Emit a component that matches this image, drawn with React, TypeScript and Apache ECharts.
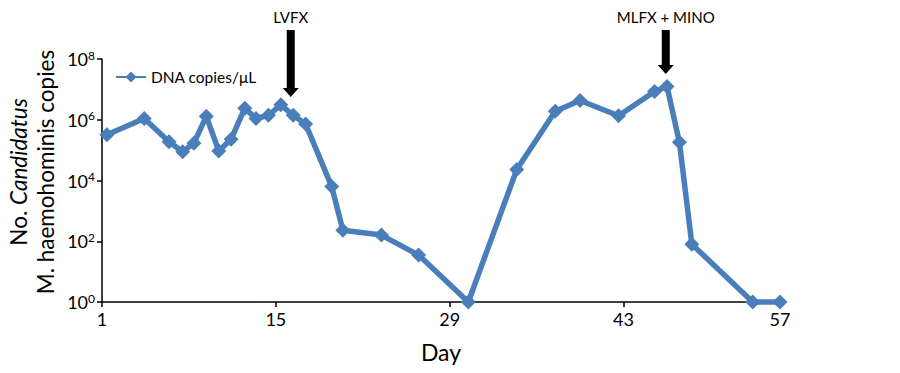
import React, { useEffect, useRef } from "react";
import * as echarts from "echarts";

const days = [1.4, 4.4, 6.4, 7.5, 8.4, 9.4, 10.4, 11.4, 12.5, 13.4, 14.4, 15.4, 16.4, 17.4, 19.5, 20.4, 23.5, 26.5, 30.5, 34.4, 37.5, 39.5, 42.6, 45.5, 46.5, 47.5, 48.5, 53.4, 55.6];
const copies = [3.2e5, 1.1e6, 1.9e5, 8.9e4, 1.7e5, 1.3e6, 9.4e4, 2.3e5, 2.4e6, 1.1e6, 1.4e6, 3.1e6, 1.4e6, 7.2e5, 6.3e3, 230, 160, 35, 1, 2.3e4, 1.9e6, 4.3e6, 1.35e6, 8.5e6, 1.25e7, 1.8e5, 80, 1, 1];
const xTickValues = [1, 15, 29, 43];
const xEndValue = 55.6;
const xEndLabel = "57";
const seriesName = "DNA copies/μL";
const treatments = [
  { label: "LVFX", day: 16.2, tipY: 97 },
  { label: "MLFX + MINO", day: 46.4, tipY: 74 },
];

const FONT = "Lato, 'Open Sans', sans-serif";
const BLUE = "#4A7EBB";

export default function App() {
  const ref = useRef<HTMLDivElement>(null);
  useEffect(() => {
    if (!ref.current) return;
    const chart = echarts.init(ref.current, null, { renderer: "svg" });
    const option: any = {
      animation: false,
      textStyle: { fontFamily: FONT },
      grid: { left: 102, right: 120, top: 59, bottom: 71, containLabel: false },
      legend: {
        show: true,
        left: 115,
        top: 69,
        padding: 0,
        itemWidth: 30,
        itemHeight: 14,
        itemGap: 6,
        textStyle: { fontFamily: FONT, fontSize: 15.5, color: "#000" },
        data: [seriesName],
      },
      xAxis: {
        type: "value",
        min: 1,
        max: xEndValue,
        name: "Day",
        nameLocation: "middle",
        nameGap: 38,
        nameTextStyle: { fontFamily: FONT, fontSize: 23, color: "#000" },
        splitLine: { show: false },
        axisLine: { show: true, lineStyle: { color: "#000", width: 1.5 } },
        axisTick: { show: true, customValues: xTickValues, length: 5, lineStyle: { color: "#000", width: 1.5 } },
        axisLabel: {
          customValues: [...xTickValues, xEndValue],
          formatter: (v: number) => (v > 50 ? xEndLabel : String(Math.round(v))),
          fontFamily: FONT,
          fontSize: 18,
          color: "#000",
          margin: 8,
        },
      },
      yAxis: {
        type: "log",
        logBase: 10,
        min: 1,
        max: 1e8,
        interval: 2,
        splitLine: { show: false },
        axisLine: { show: true, lineStyle: { color: "#000", width: 1.5 } },
        axisTick: { show: true, length: 5, lineStyle: { color: "#000", width: 1.5 } },
        minorTick: { show: false },
        axisLabel: {
          margin: 7,
          formatter: (v: number) => `{b|10}{s|${Math.round(Math.log10(v))}}`,
          rich: {
            b: { fontFamily: FONT, fontSize: 18, color: "#000" },
            s: { fontFamily: FONT, fontSize: 12, color: "#000", verticalAlign: "top", padding: [0, 0, 8, 0] },
          },
        },
      },
      series: [
        {
          name: seriesName,
          type: "line",
          data: days.map((d, i) => [d, copies[i]]),
          symbol: "diamond",
          symbolSize: 15,
          clip: false,
          lineStyle: { color: BLUE, width: 5.5 },
          itemStyle: { color: BLUE },
        },
      ],
    };
    chart.setOption(option);

    const graphics: any[] = [
      {
        type: "text",
        x: 18,
        y: 172,
        rotation: Math.PI / 2,
        style: {
          text: "{n|No. }{i|Candidatus}",
          align: "center",
          verticalAlign: "middle",
          rich: {
            n: { fontFamily: FONT, fontSize: 22.5, fill: "#000" },
            i: { fontFamily: FONT, fontSize: 22.5, fontStyle: "italic", fill: "#000" },
          },
        },
      },
      {
        type: "text",
        x: 45,
        y: 172,
        rotation: Math.PI / 2,
        style: {
          text: "M. haemohominis copies",
          align: "center",
          verticalAlign: "middle",
          fontFamily: FONT,
          fontSize: 22.5,
          fill: "#000",
        },
      },
    ];
    treatments.forEach((t) => {
      const px = chart.convertToPixel({ gridIndex: 0 }, [t.day, 1]) as number[];
      const x = px[0];
      const top = 30;
      const headTop = t.tipY - 9;
      graphics.push({
        type: "polygon",
        shape: {
          points: [
            [x - 4, top],
            [x + 4, top],
            [x + 4, headTop],
            [x + 8, headTop],
            [x, t.tipY],
            [x - 8, headTop],
            [x - 4, headTop],
          ],
        },
        style: { fill: "#000" },
      });
      graphics.push({
        type: "text",
        x,
        y: 17,
        style: {
          text: t.label,
          align: "center",
          verticalAlign: "middle",
          fontFamily: FONT,
          fontSize: 15,
          fill: "#000",
        },
      });
    });
    chart.setOption({ graphic: graphics });
    return () => chart.dispose();
  }, []);
  return (
    <div
      ref={ref}
      style={{ position: "fixed", left: 0, top: 0, width: 900, height: 373, background: "#fff" }}
    />
  );
}
